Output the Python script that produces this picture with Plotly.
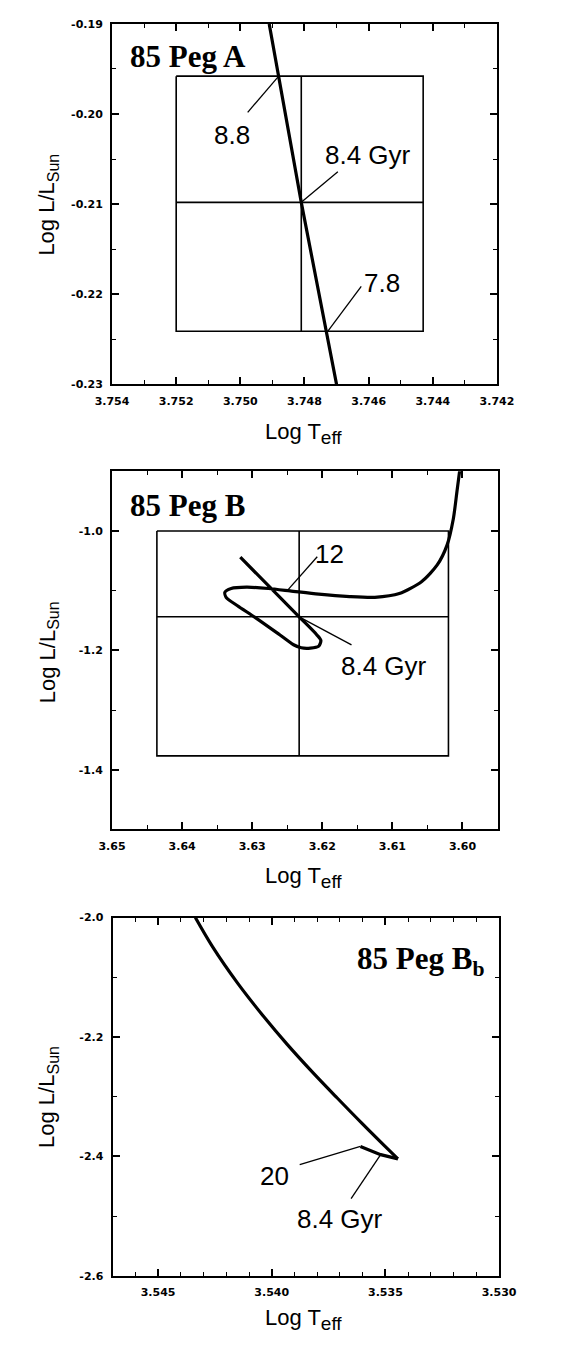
import plotly.graph_objects as go

W, H = 572, 1350

# ---------------- Panel A : 85 Peg A ----------------
A_track_logT = [3.7491, 3.7481, 3.7470]
A_track_logL = [-0.1900, -0.2098, -0.2300]
A_obs_logT, A_obs_logL = 3.7481, -0.2098
A_obs_dT_hot, A_obs_dT_cool = 0.0039, 0.0038
A_obs_dL_up, A_obs_dL_down = 0.0140, 0.0143
A_age_text = ["8.8", "8.4 Gyr", "7.8"]
A_age_logT = [3.74883, 3.7481, 3.74727]
A_age_logL = [-0.1959, -0.2098, -0.2241]
A_lead_logT = [3.74977, 3.74696, 3.74623]
A_lead_logL = [-0.19981, -0.20641, -0.21912]
A_text_logT = [3.75027, 3.74603, 3.74557]
A_text_logL = [-0.2023, -0.2045, -0.2187]
A_xticks = [3.754, 3.752, 3.750, 3.748, 3.746, 3.744, 3.742]
A_xlabels = ["3.754", "3.752", "3.750", "3.748", "3.746", "3.744", "3.742"]
A_yticks = [-0.23, -0.22, -0.21, -0.20, -0.19]
A_ylabels = ["-0.23", "-0.22", "-0.21", "-0.20", "-0.19"]

# ---------------- Panel B : 85 Peg B ----------------
B_track_logT = [3.6317, 3.6233, 3.6208, 3.6202, 3.6205, 3.6217, 3.6230, 3.6241,
                3.6263, 3.6295, 3.6321, 3.6337, 3.6339, 3.6330, 3.6308, 3.6277,
                3.6246, 3.6205, 3.6161, 3.6125, 3.6090, 3.6058, 3.6036, 3.6022,
                3.6013, 3.6008, 3.6004]
B_track_logL = [-1.0440, -1.1439, -1.1738, -1.1834, -1.1930, -1.1963, -1.1958, -1.1907,
                -1.1721, -1.1456, -1.1253, -1.1117, -1.1027, -1.0964, -1.0943, -1.0964,
                -1.1004, -1.1060, -1.1100, -1.1112, -1.1049, -1.0846, -1.0570, -1.0238,
                -0.9795, -0.9353, -0.8993]
B_obs_logT, B_obs_logL = 3.6233, -1.1439
B_obs_dT_hot, B_obs_dT_cool = 0.0203, 0.0213
B_obs_dL_up, B_obs_dL_down = 0.1439, 0.2329
B_age_text = ["12", "8.4 Gyr"]
B_age_logT = [3.6250, 3.6233]
B_age_logL = [-1.1000, -1.1439]
B_lead_logT = [3.62072, 3.61583]
B_lead_logL = [-1.0432, -1.1909]
B_text_logT = [3.61894, 3.61115]
B_text_logL = [-1.0390, -1.2257]
B_xticks = [3.65, 3.64, 3.63, 3.62, 3.61, 3.60]
B_xlabels = ["3.65", "3.64", "3.63", "3.62", "3.61", "3.60"]
B_yticks = [-1.4, -1.2, -1.0]
B_ylabels = ["-1.4", "-1.2", "-1.0"]

# ---------------- Panel C : 85 Peg Bb ----------------
# main descending track (to the turn-around point) and the short hook after it
C_track_logT = [3.54336, 3.54260, 3.54151, 3.54041, 3.53932, 3.53822, 3.53712,
                3.53603, 3.53507, 3.53445]
C_track_logL = [-2.0000, -2.0492, -2.1095, -2.1632, -2.2124, -2.2585, -2.3023,
                -2.3448, -2.3812, -2.4043]
C_hook_logT = [3.53445, 3.53521, 3.53610]
C_hook_logL = [-2.4043, -2.3972, -2.3834]
C_age_text = ["20", "8.4 Gyr"]
C_age_logT = [3.53610, 3.53521]
C_age_logL = [-2.3834, -2.3972]
C_lead_logT = [3.53877, 3.53651]
C_lead_logL = [-2.4139, -2.4709]
C_text_logT = [3.53986, 3.53699]
C_text_logL = [-2.4332, -2.5052]
C_xticks = [3.545, 3.540, 3.535, 3.530]
C_xlabels = ["3.545", "3.540", "3.535", "3.530"]
C_yticks = [-2.6, -2.4, -2.2, -2.0]
C_ylabels = ["-2.6", "-2.4", "-2.2", "-2.0"]

TITLES = ["85 Peg A", "85 Peg B", "85 Peg B<sub>b</sub>"]
XTITLE = "Log T<sub><span style='font-size:19px'>eff</span></sub>"
YTITLE = "Log L/L<sub><span style='font-size:16px'>Sun</span></sub>"


def box_path(cx, cy, tp, tm, lp, lm):
    xs = [cx + tp, cx - tm, cx - tm, cx + tp, cx + tp, None, cx + tp, cx - tm, None, cx, cx]
    ys = [cy + lp, cy + lp, cy - lm, cy - lm, cy + lp, None, cy, cy, None, cy + lp, cy - lm]
    return xs, ys


fig = go.Figure()

# observational boxes
for (cx, cy, tp, tm, lp, lm, xa, ya) in [
        (A_obs_logT, A_obs_logL, A_obs_dT_hot, A_obs_dT_cool, A_obs_dL_up, A_obs_dL_down, "x", "y"),
        (B_obs_logT, B_obs_logL, B_obs_dT_hot, B_obs_dT_cool, B_obs_dL_up, B_obs_dL_down, "x2", "y2")]:
    bx, by = box_path(cx, cy, tp, tm, lp, lm)
    fig.add_trace(go.Scatter(x=bx, y=by, mode="lines", xaxis=xa, yaxis=ya,
                             line=dict(color="black", width=1.6), showlegend=False,
                             hoverinfo="skip"))

# evolutionary tracks
for tx, ty, xa, ya, shp, sm in [(A_track_logT, A_track_logL, "x", "y", "linear", 0),
                                (B_track_logT, B_track_logL, "x2", "y2", "spline", 0.7),
                                (C_track_logT, C_track_logL, "x3", "y3", "spline", 1.0),
                                (C_hook_logT, C_hook_logL, "x3", "y3", "linear", 0)]:
    ln = dict(color="black", width=3.2, shape=shp)
    if shp == "spline":
        ln["smoothing"] = sm
    fig.add_trace(go.Scatter(x=tx, y=ty, mode="lines", xaxis=xa, yaxis=ya,
                             line=ln, showlegend=False))

# age labels with leader lines
annotations = []
label_font = dict(family="Liberation Sans, Arial", size=26, color="black")
for (txt, ax_, ay_, lx, ly, tx, ty, xa, ya) in [
        (A_age_text, A_age_logT, A_age_logL, A_lead_logT, A_lead_logL, A_text_logT, A_text_logL, "x", "y"),
        (B_age_text, B_age_logT, B_age_logL, B_lead_logT, B_lead_logL, B_text_logT, B_text_logL, "x2", "y2"),
        (C_age_text, C_age_logT, C_age_logL, C_lead_logT, C_lead_logL, C_text_logT, C_text_logL, "x3", "y3")]:
    for i in range(len(txt)):
        fig.add_trace(go.Scatter(x=[lx[i], ax_[i]], y=[ly[i], ay_[i]], mode="lines",
                                 xaxis=xa, yaxis=ya, line=dict(color="black", width=1.3),
                                 showlegend=False, hoverinfo="skip"))
        annotations.append(dict(text=txt[i], x=tx[i], y=ty[i], xref=xa, yref=ya,
                                showarrow=False, font=label_font,
                                xanchor="center", yanchor="middle"))

# panel titles
title_font = dict(family="Liberation Serif, Times New Roman", size=31, color="black", weight="bold")
for t, px, py in [(TITLES[0], 110, 43), (TITLES[1], 110, 496), (TITLES[2], 351, 956)]:
    annotations.append(dict(text="<b>" + t + "</b>", x=px / W, y=1 - py / H, xref="paper", yref="paper",
                            showarrow=False, font=title_font, xanchor="left", yanchor="middle"))

# axis titles
axt_font = dict(family="Liberation Sans, Arial", size=22, color="black")
for py in [424, 872, 1318]:
    annotations.append(dict(text=XTITLE, x=297 / W, y=1 - py / H, xref="paper", yref="paper",
                            showarrow=False, font=axt_font, xanchor="center", yanchor="middle"))
for py in [192, 644, 1093]:
    annotations.append(dict(text=YTITLE, x=25 / W, y=1 - py / H, xref="paper", yref="paper",
                            showarrow=False, font=axt_font, xanchor="center", yanchor="middle",
                            textangle=-90))

tick_font = dict(family="DejaVu Sans", size=11, color="black", weight="bold")


def axis(domain, rng, tvals, ttext, mdt, anchor, standoff):
    return dict(domain=domain, range=rng, anchor=anchor, tickmode="array",
                tickvals=tvals, ticktext=ttext, showline=True, linecolor="black",
                linewidth=2, mirror="allticks", ticks="inside", ticklen=7, tickwidth=1.6,
                tickcolor="black", showgrid=False, zeroline=False, tickfont=tick_font,
                ticklabelstandoff=standoff,
                minor=dict(tickmode="linear", tick0=tvals[0], dtick=mdt, ticks="inside",
                           ticklen=4, tickwidth=1.3, tickcolor="black", showgrid=False))


fig.update_layout(
    width=W, height=H, margin=dict(l=0, r=0, t=0, b=0),
    paper_bgcolor="white", plot_bgcolor="white", showlegend=False,
    annotations=annotations,
    xaxis=axis([92.7 / W, 502.7 / W], [3.754, 3.742], A_xticks, A_xlabels, 0.001, "y", 5),
    yaxis=axis([1 - 374 / H, 1 - 10 / H], [-0.23, -0.19], A_yticks, A_ylabels, 0.005, "x", 5),
    xaxis2=axis([92.7 / W, 503.3 / W], [3.65, 3.595], B_xticks, B_xlabels, 0.005, "y2", 5),
    yaxis2=axis([1 - 823.3 / H, 1 - 461.7 / H], [-1.5, -0.9], B_yticks, B_ylabels, 0.1, "x2", 5),
    xaxis3=axis([93.3 / W, 505 / W], [3.547, 3.530], C_xticks, C_xlabels, 0.001, "y3", 5),
    yaxis3=axis([1 - 1274 / H, 1 - 912.3 / H], [-2.6, -2.0], C_yticks, C_ylabels, 0.1, "x3", 5),
)

fig.write_html("out.html")
